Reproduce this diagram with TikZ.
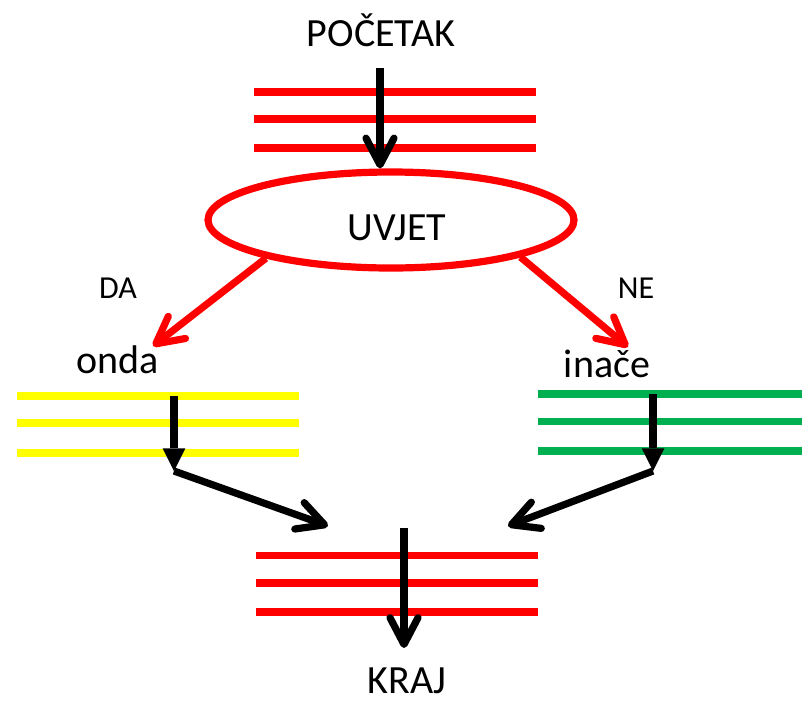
\documentclass[tikz,border=0pt]{standalone}
\usepackage{fontspec}
\setmainfont{Carlito}
\usetikzlibrary{arrows.meta,shapes.geometric}
\definecolor{pptred}{RGB}{255,0,0}
\definecolor{pptyellow}{RGB}{255,255,0}
\definecolor{pptgreen}{RGB}{0,176,80}
\begin{document}
\begin{tikzpicture}[x=0.75pt,y=-0.75pt,
  bar/.style={line width=5.4pt},
  conn/.style={line width=5.4pt},
  barbtip/.style={-{Straight Barb[round,length=20pt,width=21pt]}},
  tritip/.style={-{Triangle[line width=0pt,length=17pt,width=17pt]}},
  big/.style={inner sep=0pt, anchor=base, font=\fontsize{30}{36}\selectfont},
  small/.style={inner sep=0pt, anchor=base, font=\fontsize{24}{29}\selectfont}]
\useasboundingbox (0,0) rectangle (802,704);

% bars
\foreach \y in {92,119,148} \draw[bar,pptred] (254,\y) -- (536,\y);
\foreach \y in {396,423,453} \draw[bar,pptyellow] (17,\y) -- (299,\y);
\foreach \y in {394,421.5,451} \draw[bar,pptgreen] (538,\y) -- (805,\y);
\foreach \y in {555.5,583,612} \draw[bar,pptred] (256,\y) -- (538,\y);

% texts
\node[big] (pocetak) at (381,46) {POČETAK};
\node[ellipse, draw=pptred, line width=5.4pt, minimum width=274.5pt, minimum height=72pt, inner sep=0pt] (uvjet) at (391,220) {};
\node[big] (uvjettxt) at (397,240) {UVJET};
\node[small] (da) at (118,298) {DA};
\node[small] (ne) at (636,298) {NE};
\node[big] (onda) at (118,373) {onda};
\node[big] (inace) at (607,377) {inače};
\node[big] (kraj) at (407,693) {KRAJ};

% connector end points
\coordinate (s1) at (380,68);
\coordinate (ondatip) at (153,346);
\coordinate (inacetip) at (628,347);
\coordinate (ya) at (174,396);
\coordinate (yb) at (174,471);
\coordinate (ga) at (653,394);
\coordinate (gb) at (653,471);
\coordinate (kl) at (328,526);
\coordinate (kr) at (508,526);
\coordinate (ba) at (404,528);
\coordinate (bt) at (404,648);

% connectors
\draw[conn,barbtip] (s1) -- (s1 |- uvjet.north);
\draw[conn,barbtip,pptred] (uvjet.197) -- (ondatip);
\draw[conn,barbtip,pptred] (uvjet.344) -- (inacetip);
\draw[conn,tritip] (ya) -- (yb);
\draw[conn,tritip] (ga) -- (gb);
\draw[conn,barbtip] (yb) -- (kl);
\draw[conn,barbtip] (gb) -- (kr);
\draw[conn,barbtip] (ba) -- (bt);
\end{tikzpicture}
\end{document}
